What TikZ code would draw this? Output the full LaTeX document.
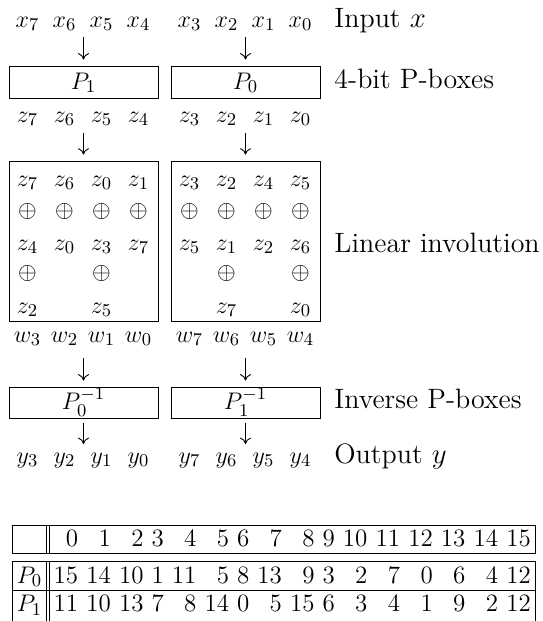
\documentclass[tikz,border=0pt]{standalone}
\usepackage{amsmath}
\usetikzlibrary{arrows.meta}
\begin{document}
\begin{tikzpicture}[x=0.5pt,y=-0.5pt,
  font=\fontsize{13}{15.5}\selectfont,
  lab/.style={inner sep=0pt, anchor=base},
  txt/.style={inner sep=0pt, anchor=base west, font=\fontsize{14}{17}\selectfont},
  tnum/.style={inner sep=0pt, font=\fontsize{12.5}{15}\selectfont},
  pbox/.style={draw, line width=0.5pt, inner sep=0pt, minimum width=74.5pt, text height=8.9pt, text depth=1.9pt},
  bigbox/.style={draw, line width=0.5pt, inner sep=0pt, minimum width=74.5pt, minimum height=80pt},
  arr/.style={line width=0.45pt, -{To[length=3.2pt,width=5.5pt]}},
  num/.style={tnum, anchor=base east},
  rule/.style={line width=0.45pt}]
\useasboundingbox (0,0) rectangle (542,621);

% input row
\foreach \n/\xx in {7/27.5,6/64.5,5/101.5,4/138.5,3/189.5,2/226.5,1/263.5,0/300.5}
  \node[lab] (x\n) at (\xx,27) {$x_{\n}$};
\node[txt] (tin) at (334,27) {Input $x$};

% P-boxes
\node[pbox, minimum height=16pt] (P1) at (83.5,82) {$P_1$};
\node[pbox, minimum height=16pt] (P0) at (245.5,82) {$P_0$};
\node[txt] (tpb) at (334,88) {4-bit P-boxes};
\coordinate (a1l) at (83.5,37);
\coordinate (a1r) at (245.5,37);
\draw[arr, shorten >=3pt] (a1l) -- (P1.north);
\draw[arr, shorten >=3pt] (a1r) -- (P0.north);

% z row
\foreach \n/\xx in {7/27.5,6/64.5,5/101.5,4/138.5,3/189.5,2/226.5,1/263.5,0/300.5}
  \node[lab] (z\n) at (\xx,122) {$z_{\n}$};

% linear involution boxes
\node[bigbox] (LL) at (83.5,241.7) {};
\node[bigbox] (LR) at (245.5,241.7) {};
\coordinate (a2l) at (83.5,133);
\coordinate (a2r) at (245.5,133);
\draw[arr, shorten >=3.3pt] (a2l) -- (LL.north);
\draw[arr, shorten >=3.3pt] (a2r) -- (LR.north);
\node[txt] (tli) at (334,252) {Linear involution};

% left box contents
\foreach \n/\xx [count=\i] in {7/27.5,6/64.5,0/101.5,1/138.5}
  \node[lab] (la\i) at (\xx,186) {$z_{\n}$};
\foreach \xx [count=\i] in {27.5,64.5,101.5,138.5}
  \node[inner sep=0pt] (lp\i) at (\xx,211) {$\oplus$};
\foreach \n/\xx [count=\i] in {4/27.5,0/64.5,3/101.5,7/138.5}
  \node[lab] (lb\i) at (\xx,250) {$z_{\n}$};
\node[inner sep=0pt] (lq1) at (27.5,273) {$\oplus$};
\node[inner sep=0pt] (lq3) at (101.5,273) {$\oplus$};
\node[lab] (lc1) at (27.5,313) {$z_2$};
\node[lab] (lc3) at (101.5,313) {$z_5$};

% right box contents
\foreach \n/\xx [count=\i] in {3/189.5,2/226.5,4/263.5,5/300.5}
  \node[lab] (ra\i) at (\xx,186) {$z_{\n}$};
\foreach \xx [count=\i] in {189.5,226.5,263.5,300.5}
  \node[inner sep=0pt] (rp\i) at (\xx,211) {$\oplus$};
\foreach \n/\xx [count=\i] in {5/189.5,1/226.5,2/263.5,6/300.5}
  \node[lab] (rb\i) at (\xx,250) {$z_{\n}$};
\node[inner sep=0pt] (rq2) at (226.5,273) {$\oplus$};
\node[inner sep=0pt] (rq4) at (300.5,273) {$\oplus$};
\node[lab] (rc2) at (226.5,313) {$z_7$};
\node[lab] (rc4) at (300.5,313) {$z_0$};

% w row
\foreach \n/\xx in {3/27.5,2/64.5,1/101.5,0/138.5,7/189.5,6/226.5,5/263.5,4/300.5}
  \node[lab] (w\n) at (\xx,342) {$w_{\n}$};

% inverse P-boxes
\node[pbox, minimum height=15.5pt] (IL) at (83.5,402.5) {$P_0^{-1}$};
\node[pbox, minimum height=15.5pt] (IR) at (245.5,402.5) {$P_1^{-1}$};
\node[txt] (tip) at (334,408) {Inverse P-boxes};
\coordinate (a3l) at (83.5,358);
\coordinate (a3r) at (245.5,358);
\draw[arr, shorten >=3pt] (a3l) -- (IL.north);
\draw[arr, shorten >=3pt] (a3r) -- (IR.north);
\coordinate (a4l) at (83.5,444);
\coordinate (a4r) at (245.5,444);
\draw[arr, shorten <=2pt] (IL.south) -- (a4l);
\draw[arr, shorten <=2pt] (IR.south) -- (a4r);

% output row
\foreach \n/\xx in {3/27.5,2/64.5,1/101.5,0/138.5,7/189.5,6/226.5,5/263.5,4/300.5}
  \node[lab] (y\n) at (\xx,463) {$y_{\n}$};
\node[txt] (tout) at (334,463) {Output $y$};

% table
\draw[rule] (12,525) rectangle (535,553.5);
\draw[rule] (46.5,525) -- (46.5,553.5);
\draw[rule] (49.8,525) -- (49.8,553.5);
\draw[rule] (12,625) -- (12,561) -- (535,561) -- (535,625);
\draw[rule] (12,590.7) -- (535,590.7);
\draw[rule] (46.5,561) -- (46.5,625);
\draw[rule] (49.8,561) -- (49.8,625);
\node[tnum, anchor=base] (tp0) at (29.5,583.3) {$P_0$};
\node[tnum, anchor=base] (tp1) at (29.5,611.7) {$P_1$};
\foreach \xx/\a/\b/\c [count=\i] in {78.64/0/15/11, 111.31/1/14/10, 143.98/2/10/13, 164.15/3/1/7,
  196.82/4/11/8, 229.49/5/5/14, 249.66/6/8/0, 282.33/7/13/5, 315.0/8/9/15, 335.17/9/3/6,
  367.84/10/2/3, 400.51/11/7/4, 433.18/12/0/1, 465.85/13/6/9, 498.52/14/4/2, 531.19/15/12/12}{
  \node[num] (h\i) at (\xx,546.7) {\a};
  \node[num] (p\i) at (\xx,583.3) {\b};
  \node[num] (q\i) at (\xx,611.7) {\c};
}
\end{tikzpicture}
\end{document}
